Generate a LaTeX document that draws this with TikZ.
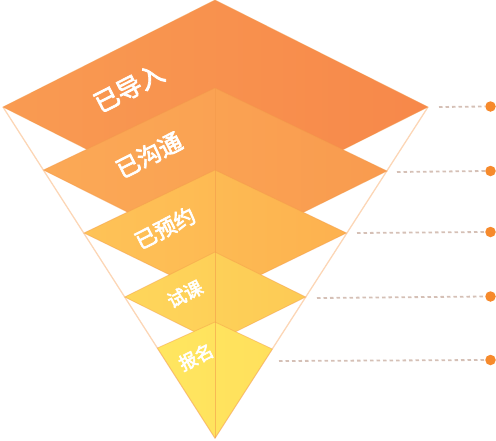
\documentclass[tikz,border=0pt]{standalone}
\usepackage{fontspec}
\newfontfamily\cjk[FakeBold=3]{Noto Sans CJK SC}
\definecolor{coneln}{HTML}{FCD6B6}
\definecolor{dashc}{HTML}{D5C0B6}
\definecolor{dotc}{HTML}{F68A2C}
\definecolor{midln}{HTML}{F39A4A}
\definecolor{aL}{HTML}{F99B52}\definecolor{aR}{HTML}{F7884A}
\definecolor{bL}{HTML}{FBA956}\definecolor{bR}{HTML}{F99B4F}
\definecolor{cL}{HTML}{FEC357}\definecolor{cR}{HTML}{FDB14F}
\definecolor{dL}{HTML}{FED65B}\definecolor{dR}{HTML}{FDCA55}
\definecolor{eL}{HTML}{FFE660}\definecolor{eR}{HTML}{FFE05C}
\begin{document}
\begin{tikzpicture}[x=1pt,y=-1pt,
  layer/.style={draw=midln,draw opacity=0.45,line width=0.8pt,line join=miter},
  lab/.style={text=white,rotate=27,inner sep=0pt},
  conn/.style={dashc,line width=1.8pt,dash pattern=on 3.5pt off 3pt},
  dotn/.style={circle,fill=dotc,minimum size=10.5pt,inner sep=0pt}]
\useasboundingbox (0,0) rectangle (496,440);
% cone lines
\coordinate (T) at (215,438);
\draw[coneln,line width=1.3pt] (3,107) -- (T) -- (428,107);
% layers
\shadedraw[layer,left color=aL,right color=aR] (215,0) -- (3,107) -- (215,214) -- (428,107) -- cycle;
\shadedraw[layer,left color=bL,right color=bR] (215,88) -- (43.5,170) -- (215,256) -- (387,171) -- cycle;
\shadedraw[layer,left color=cL,right color=cR] (215,170) -- (84,233) -- (215,297) -- (346.5,233) -- cycle;
\shadedraw[layer,left color=dL,right color=dR] (215,252) -- (124.7,297) -- (215,342) -- (305.7,297) -- cycle;
\shadedraw[layer,left color=eL,right color=eR] (215,322) -- (157.4,348) -- (T) -- (272.3,349) -- cycle;
\draw[midln,opacity=0.55,line width=0.8pt] (215,88) -- (T);
% labels
\node[lab,font=\cjk\fontsize{25}{25}\selectfont] (t1) at (129,88) {已导入};
\node[lab,font=\cjk\fontsize{23.5}{23.5}\selectfont] (t2) at (149,155) {已沟通};
\node[lab,font=\cjk\fontsize{21.5}{21.5}\selectfont] (t3) at (165,228) {已预约};
\node[lab,font=\cjk\fontsize{18.5}{18.5}\selectfont] (t4) at (185,294) {试课};
\node[lab,font=\cjk\fontsize{18}{18}\selectfont] (t5) at (196,357) {报名};
% connectors
\node[dotn] (d1) at (490.5,106.5) {};
\node[dotn] (d2) at (490.5,171) {};
\node[dotn] (d3) at (490.5,232) {};
\node[dotn] (d4) at (490.5,296.5) {};
\node[dotn] (d5) at (490.5,360) {};
\coordinate (c1) at (439,107);
\coordinate (c2) at (397,172);
\coordinate (c3) at (357,233);
\coordinate (c4) at (317,298);
\coordinate (c5) at (279,361);
\foreach \i in {1,...,5} \draw[conn] (c\i) -- (d\i.west);
\end{tikzpicture}
\end{document}
